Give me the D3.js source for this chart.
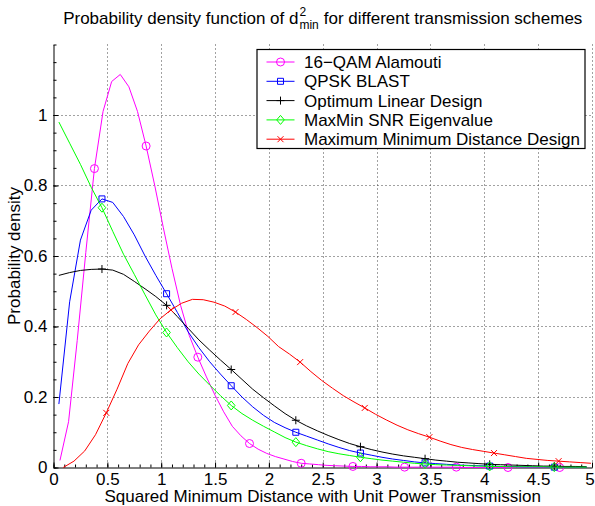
<!DOCTYPE html>
<html><head><meta charset="utf-8">
<script src="https://cdn.jsdelivr.net/npm/d3@7"></script>
<style>
body{margin:0;background:#fff}
svg{display:block;font-family:"Liberation Sans",Arial,Helvetica,sans-serif}
</style>
</head><body>
<svg id="chart" width="595" height="506"></svg>
<script>
// ---------- data ----------
const seriesNames = ["16\u2212QAM Alamouti","QPSK BLAST","Optimum Linear Design","MaxMin SNR Eigenvalue","Maximum Minimum Distance Design"];
const xTicks = [0,0.5,1,1.5,2,2.5,3,3.5,4,4.5,5];
const xTickLabels = ["0","0.5","1","1.5","2","2.5","3","3.5","4","4.5","5"];
const yTicks = [0,0.2,0.4,0.6,0.8,1];
const yTickLabels = ["0","0.2","0.4","0.6","0.8","1"];

// sample grids (x positions of the plotted density estimates)
const gridA = d3.range(50).map(k => +(0.05 + 0.1*k).toFixed(3));   // BLAST, Optimum, MaxMin
const gridR = d3.range(50).map(k => +(0.09 + 0.1*k).toFixed(3));   // Max Min Distance
const gridM = d3.range(62).map(k => +(0.06 + 0.08*k).toFixed(3));  // Alamouti

const alamoutiY = [0.02,0.13,0.36,0.61,0.848,1.01,1.095,1.115,1.08,1.01,
  0.912,0.80,0.68,0.565,0.46,0.375,0.313,0.257,0.205,0.158,
  0.117,0.090,0.068,0.052,0.040,0.031,0.024,0.017,0.012,0.010,
  0.008,0.006,0.005,0.004,0.003,0.003,0.002,0.002,0.002,0.001,
  0.001,0.001,0.001,0.001,0.001,0.001,0.001,0,0,0,
  0,0,0,0,0,0,0,0,0,0,0,0];
const blastY = [0.18,0.47,0.645,0.73,0.762,0.752,0.712,0.66,0.60,0.545,
  0.493,0.44,0.385,0.34,0.30,0.265,0.232,0.20,0.172,0.148,
  0.128,0.113,0.100,0.089,0.078,0.067,0.057,0.048,0.041,0.035,
  0.029,0.024,0.020,0.016,0.013,0.011,0.009,0.007,0.006,0.005,
  0.004,0.003,0.003,0.002,0.002,0.002,0.001,0.001,0.001,0.001];
const optimumY = [0.545,0.553,0.559,0.562,0.563,0.560,0.548,0.528,0.507,0.485,
  0.460,0.428,0.395,0.362,0.333,0.305,0.278,0.250,0.222,0.198,
  0.175,0.153,0.134,0.118,0.104,0.091,0.079,0.068,0.059,0.051,
  0.044,0.038,0.033,0.029,0.025,0.021,0.018,0.015,0.013,0.011,
  0.009,0.008,0.007,0.006,0.005,0.004,0.004,0.003,0.003,0.002];
const maxminY = [0.98,0.92,0.86,0.795,0.737,0.67,0.605,0.548,0.49,0.433,
  0.383,0.34,0.30,0.265,0.234,0.204,0.176,0.153,0.134,0.117,
  0.101,0.085,0.072,0.062,0.053,0.045,0.039,0.034,0.029,0.025,
  0.021,0.018,0.015,0.012,0.010,0.008,0.007,0.006,0.005,0.004,
  0.003,0.003,0.002,0.002,0.002,0.002,0.001,0.001,0.001,0.001];
const maxDistY = [0.000,0.018,0.047,0.093,0.155,0.222,0.295,0.348,0.387,0.422,
  0.447,0.466,0.477,0.476,0.469,0.458,0.441,0.420,0.397,0.372,
  0.343,0.322,0.299,0.272,0.247,0.225,0.204,0.186,0.169,0.151,
  0.135,0.120,0.107,0.096,0.086,0.075,0.065,0.057,0.051,0.046,
  0.041,0.036,0.031,0.026,0.023,0.020,0.018,0.016,0.014,0.012];

// ---------- styles ----------
const styles = [
  {x: gridM, y: alamoutiY, color: "#ff00ff", marker: "circle"},
  {x: gridA, y: blastY,    color: "#0000ff", marker: "square"},
  {x: gridA, y: optimumY,  color: "#000000", marker: "plus"},
  {x: gridA, y: maxminY,   color: "#00ff00", marker: "diamond"},
  {x: gridR, y: maxDistY,  color: "#ff0000", marker: "cross"}
];
const markerStart = 4, markerEvery = 6;

const svg = d3.select("#chart");
const L = 53.5, R = 592, T = 44.5, B = 467.5;
const x = d3.scaleLinear().domain([0,5]).range([L,R]);
const y = d3.scaleLinear().domain([0,1.2]).range([B,T]);
const FS = 17;

// grid
const grid = svg.append("g").attr("stroke","#444").attr("stroke-width",1).attr("stroke-dasharray","1,3");
xTicks.filter(v=>v>0).forEach(v=>{
  grid.append("line").attr("x1",Math.round(x(v))+0.5).attr("x2",Math.round(x(v))+0.5).attr("y1",T).attr("y2",B);
});
yTicks.filter(v=>v>0).forEach(v=>{
  grid.append("line").attr("x1",L).attr("x2",R).attr("y1",Math.round(y(v))+0.5).attr("y2",Math.round(y(v))+0.5);
});

// axes using d3 axis generators
const xAxis = d3.axisBottom(x).tickValues(xTicks).tickFormat((d,i)=>xTickLabels[i]).tickSizeInner(-5).tickSizeOuter(0).tickPadding(5);
const yAxis = d3.axisLeft(y).tickValues(yTicks).tickFormat((d,i)=>yTickLabels[i]).tickSizeInner(-5).tickSizeOuter(0).tickPadding(6);
const gx = svg.append("g").attr("transform",`translate(0,${B})`).call(xAxis);
const gy = svg.append("g").attr("transform",`translate(${L},0)`).call(yAxis);
[gx,gy].forEach(g=>{
  g.select(".domain").attr("stroke","#000");
  g.selectAll(".tick line").attr("stroke","#000");
  g.selectAll("text").attr("fill","#000").attr("font-size",FS).attr("font-family",'"Liberation Sans",Arial,sans-serif');
});
// keep the last x label inside the picture
gx.selectAll(".tick text").filter(d=>d===5).attr("dx",-2.5);
// minor ticks
const xMinor = d3.axisBottom(x).tickValues(d3.range(0,5.0001,0.1)).tickFormat("").tickSizeInner(-3).tickSizeOuter(0);
const yMinor = d3.axisLeft(y).tickValues(d3.range(0,1.2001,0.05)).tickFormat("").tickSizeInner(-3).tickSizeOuter(0);
svg.append("g").attr("transform",`translate(0,${B})`).call(xMinor).call(g=>{g.select(".domain").remove();g.selectAll("line").attr("stroke","#000");});
svg.append("g").attr("transform",`translate(${L},0)`).call(yMinor).call(g=>{g.select(".domain").remove();g.selectAll("line").attr("stroke","#000");});

// marker drawing
function drawMarker(g, type, cx, cy, color){
  const s = g.append("path").attr("fill","none").attr("stroke",color).attr("stroke-width",1);
  let p;
  switch(type){
    case "circle": p = d3.path(); p.arc(cx,cy,4,0,2*Math.PI); break;
    case "square": p = d3.path(); p.rect(cx-3,cy-3,6,6); break;
    case "plus": p = d3.path(); p.moveTo(cx-4,cy); p.lineTo(cx+4,cy); p.moveTo(cx,cy-4); p.lineTo(cx,cy+4); break;
    case "diamond": p = d3.path(); p.moveTo(cx,cy-4.5); p.lineTo(cx+3.8,cy); p.lineTo(cx,cy+4.5); p.lineTo(cx-3.8,cy); p.closePath(); break;
    case "cross": p = d3.path(); p.moveTo(cx-3,cy-3); p.lineTo(cx+3,cy+3); p.moveTo(cx-3,cy+3); p.lineTo(cx+3,cy-3); break;
  }
  s.attr("d", p.toString());
}

// series
const line = d3.line().x(d=>x(d[0])).y(d=>y(d[1]));
const plot = svg.append("g");
styles.forEach(s=>{
  const pts = s.x.map((xv,i)=>[xv, s.y[i]]);
  plot.append("path").attr("d",line(pts)).attr("fill","none").attr("stroke",s.color).attr("stroke-width",1);
  pts.forEach((p,i)=>{ if(i>=markerStart && (i-markerStart)%markerEvery===0) drawMarker(plot,s.marker,x(p[0]),y(p[1]),s.color); });
});

// legend
const lg = svg.append("g");
const lgX = 257, lgY = 49.5, lgW = 328, lgH = 99;
lg.append("rect").attr("x",lgX).attr("y",lgY).attr("width",lgW).attr("height",lgH).attr("fill","#fff").attr("stroke","#000").attr("stroke-width",1.2);
styles.forEach((s,i)=>{
  const cy = 62 + i*19.3;
  lg.append("line").attr("x1",266.5).attr("x2",294.5).attr("y1",cy).attr("y2",cy).attr("stroke",s.color).attr("stroke-width",1);
  drawMarker(lg, s.marker, 280.5, cy, s.color);
  lg.append("text").attr("x",304).attr("y",cy+6).attr("font-size",FS).attr("fill","#000").text(seriesNames[i]);
});

// axis labels
svg.append("text").attr("x",(L+R)/2).attr("y",502).attr("text-anchor","middle").attr("font-size",FS).text("Squared Minimum Distance with Unit Power Transmission");
svg.append("text").attr("transform",`translate(20,${(T+B)/2}) rotate(-90)`).attr("text-anchor","middle").attr("font-size",FS).text("Probability density");

// title with d^2_min
const tg = svg.append("g");
const tBase = 24;
const t1 = tg.append("text").attr("y",tBase).attr("font-size",FS).text("Probability density function of d");
const tSup = tg.append("text").attr("y",tBase-8).attr("font-size",12).text("2");
const tSub = tg.append("text").attr("y",tBase+5).attr("font-size",12).text("min");
const t2 = tg.append("text").attr("y",tBase).attr("font-size",FS).text("for different transmission schemes");
const w1 = t1.node().getComputedTextLength(), ws = tSup.node().getComputedTextLength(),
      wm = tSub.node().getComputedTextLength(), w2 = t2.node().getComputedTextLength();
const gap = 5;
const total = w1 + 1 + Math.max(ws,wm) + gap + w2;
const x0 = (L+R)/2 - total/2;
t1.attr("x",x0); tSup.attr("x",x0+w1+1); tSub.attr("x",x0+w1+1); t2.attr("x",x0+w1+1+Math.max(ws,wm)+gap);
</script>
</body></html>
